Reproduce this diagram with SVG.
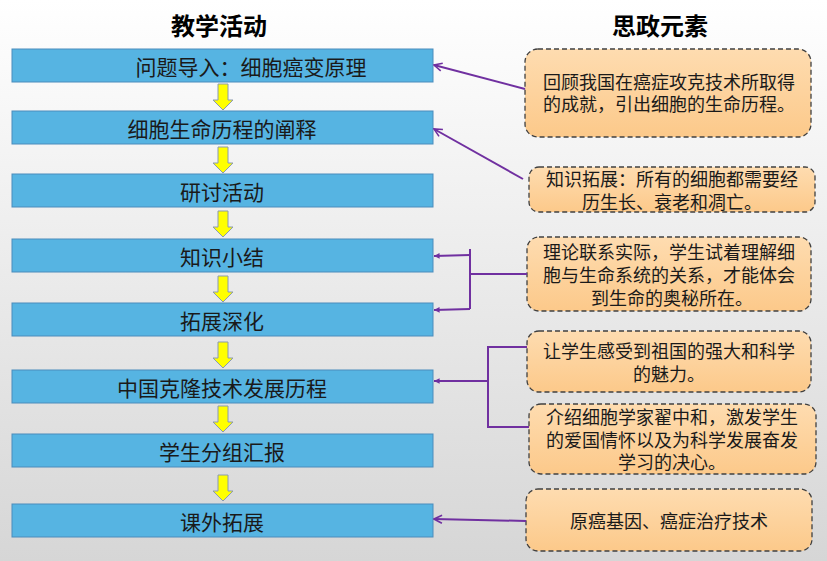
<svg xmlns="http://www.w3.org/2000/svg" width="827" height="561" viewBox="0 0 827 561">
<defs>
<linearGradient id="bg" x1="0" y1="0" x2="0" y2="1"><stop offset="0" stop-color="#ffffff"/><stop offset="1" stop-color="#d6d6d6"/></linearGradient>
<linearGradient id="og" x1="0" y1="0" x2="0" y2="1"><stop offset="0" stop-color="#fedcb0"/><stop offset="1" stop-color="#fcc98a"/></linearGradient>
<marker id="open" viewBox="0 0 10 10" refX="9" refY="5" markerWidth="10" markerHeight="10" markerUnits="userSpaceOnUse" orient="auto"><path d="M1,1 L9,5 L1,9" fill="none" stroke="#7030a0" stroke-width="1.6"/></marker>
<marker id="small" viewBox="0 0 10 10" refX="9" refY="5" markerWidth="7" markerHeight="7" markerUnits="userSpaceOnUse" orient="auto"><path d="M1,1 L9,5 L1,9 Z" fill="#7030a0"/></marker>
<path id="ya" d="M-5,0 H5 V16 H10 L0,26 L-10,16 H-5 Z"/>
</defs>
<style>
.blue{fill:#56b4e2;stroke:#4a8cbc;stroke-width:1}
.bt{font-family:"Noto Sans CJK SC","Noto Sans",sans-serif;font-size:21px;fill:#1a1a1a;text-anchor:middle;dominant-baseline:central}
.or{fill:url(#og);stroke:#404040;stroke-width:1.3;stroke-dasharray:5 3}
.ot{font-family:"Noto Sans CJK SC","Noto Sans",sans-serif;font-size:18px;fill:#1a1a1a;text-anchor:middle;dominant-baseline:central}
.hd{font-family:"Noto Sans CJK SC","Noto Sans",sans-serif;font-size:24px;font-weight:bold;fill:#000;text-anchor:middle;dominant-baseline:central}
.arr{fill:#ffff00;stroke:#8a9ab0;stroke-width:1}
.ln{fill:none;stroke:#7030a0;stroke-width:2}
</style>
<rect width="827" height="561" fill="url(#bg)"/>
<text class="hd" x="219" y="24">教学活动</text>
<text class="hd" x="660" y="24">思政元素</text>
<g id="flow-arrows">
<use href="#ya" class="arr" x="223" y="84"/>
<use href="#ya" class="arr" x="223" y="147"/>
<use href="#ya" class="arr" x="223" y="211"/>
<use href="#ya" class="arr" x="223" y="276"/>
<use href="#ya" class="arr" x="223" y="342"/>
<use href="#ya" class="arr" x="223" y="406"/>
<use href="#ya" class="arr" x="223" y="475"/>
</g>
<g id="n1"><rect class="blue" x="12" y="49" width="421" height="33"/><text class="bt" x="251" y="65.5">问题导入：细胞癌变原理</text></g>
<g id="n2"><rect class="blue" x="12" y="111" width="421" height="33"/><text class="bt" x="222" y="127.5">细胞生命历程的阐释</text></g>
<g id="n3"><rect class="blue" x="12" y="174" width="421" height="33"/><text class="bt" x="222" y="190.5">研讨活动</text></g>
<g id="n4"><rect class="blue" x="12" y="239" width="421" height="33"/><text class="bt" x="222" y="255.5">知识小结</text></g>
<g id="n5"><rect class="blue" x="12" y="303" width="421" height="33"/><text class="bt" x="222" y="319.5">拓展深化</text></g>
<g id="n6"><rect class="blue" x="12" y="370" width="421" height="33"/><text class="bt" x="222" y="386.5">中国克隆技术发展历程</text></g>
<g id="n7"><rect class="blue" x="12" y="434" width="421" height="33"/><text class="bt" x="222" y="450.5">学生分组汇报</text></g>
<g id="n8"><rect class="blue" x="12" y="504" width="421" height="33"/><text class="bt" x="222" y="520.5">课外拓展</text></g>
<g id="rA"><rect class="or" x="525" y="49" width="286" height="88" rx="13"/><text class="ot" x="669" y="81">回顾我国在癌症攻克技术所取得</text><text class="ot" x="669" y="103">的成就，引出细胞的生命历程。</text></g>
<g id="rB"><rect class="or" x="529" y="167" width="286" height="45" rx="10"/><text class="ot" x="672" y="178">知识拓展：所有的细胞都需要经</text><text class="ot" x="672" y="201">历生长、衰老和凋亡。</text></g>
<g id="rC"><rect class="or" x="527" y="237" width="284" height="74" rx="12"/><text class="ot" x="669" y="251">理论联系实际，学生试着理解细</text><text class="ot" x="669" y="274">胞与生命系统的关系，才能体会</text><text class="ot" x="672" y="297">到生命的奥秘所在。</text></g>
<g id="rD"><rect class="or" x="527" y="331" width="284" height="61" rx="12"/><text class="ot" x="669" y="350">让学生感受到祖国的强大和科学</text><text class="ot" x="669" y="373">的魅力。</text></g>
<g id="rE"><rect class="or" x="529" y="404" width="287" height="70" rx="12"/><text class="ot" x="672" y="416">介绍细胞学家翟中和，激发学生</text><text class="ot" x="672" y="439">的爱国情怀以及为科学发展奋发</text><text class="ot" x="672" y="461">学习的决心。</text></g>
<g id="rF"><rect class="or" x="526" y="489" width="286" height="62" rx="12"/><text class="ot" x="669" y="520">原癌基因、癌症治疗技术</text></g>
<g id="connectors">
<path class="ln" d="M525,89 L434,65" marker-end="url(#open)"/>
<path class="ln" d="M523,179 L434,129" marker-end="url(#open)"/>
<path class="ln" d="M527,274 H470"/>
<path class="ln" d="M470,249 V309"/>
<path class="ln" d="M470,255 L434,256" marker-end="url(#small)"/>
<path class="ln" d="M470,309 L434,310" marker-end="url(#small)"/>
<path class="ln" d="M527,347 H488 V427 H529"/>
<path class="ln" d="M488,381 H434" marker-end="url(#small)"/>
<path class="ln" d="M526,521 L434,519" marker-end="url(#open)"/>
</g>
</svg>
